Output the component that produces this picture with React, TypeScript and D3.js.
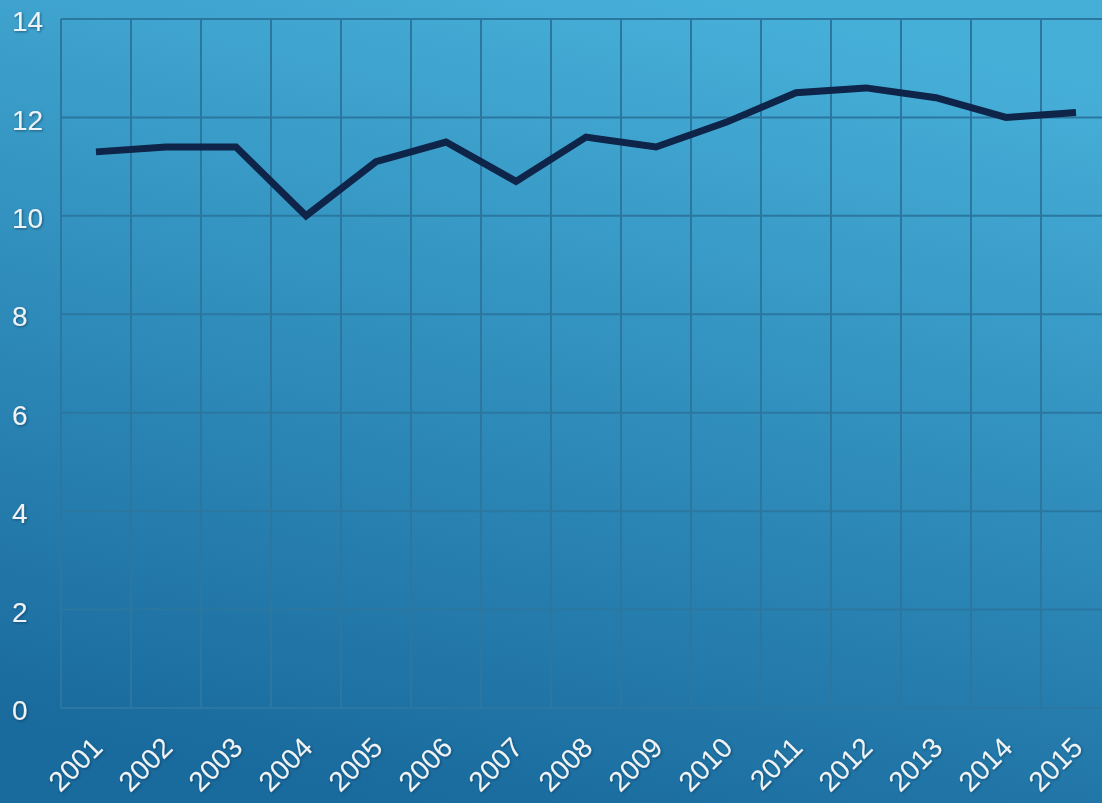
import React from "react";
import * as d3 from "d3";

const years = ["2001","2002","2003","2004","2005","2006","2007","2008","2009","2010","2011","2012","2013","2014","2015"];
const values = [11.3, 11.4, 11.4, 10.0, 11.1, 11.5, 10.7, 11.6, 11.4, 11.9, 12.5, 12.6, 12.4, 12.0, 12.1];
const yTicks = [0, 2, 4, 6, 8, 10, 12, 14];

export default function App() {
  const W = 1102, H = 803;
  const left = 61, top = 19, bottom = 708;
  const bandW = 70;
  const x = d3.scaleBand<string>().domain(years).range([left, left + bandW * years.length]).padding(0);
  const y = d3.scaleLinear().domain([0, 14]).range([bottom, top]);
  const line = d3.line<number>().x((_, i) => (x(years[i]) as number) + x.bandwidth() / 2).y((d) => y(d));
  const gridColor = "#2b77a0";
  const right = left + bandW * years.length;
  return (
    <svg width={W} height={H} style={{ position: "absolute", left: 0, top: 0 }}
      fontFamily="'Liberation Sans', Arial, sans-serif">
      <defs>
        <linearGradient id="bg" x1="0.35" y1="1" x2="0.65" y2="0">
          <stop offset="0" stopColor="#196a9d" />
          <stop offset="1" stopColor="#46afd8" />
        </linearGradient>
        <filter id="ts" x="-20%" y="-20%" width="140%" height="140%">
          <feDropShadow dx="1" dy="1" stdDeviation="0.8" floodColor="#0b3550" floodOpacity="0.6" />
        </filter>
      </defs>
      <rect x={0} y={0} width={W} height={H} fill="url(#bg)" />
      {yTicks.map((t) => (
        <line key={"h" + t} x1={left} x2={right} y1={y(t)} y2={y(t)} stroke={gridColor} strokeWidth={2} />
      ))}
      {d3.range(years.length + 1).map((i) => (
        <line key={"v" + i} x1={left + i * bandW} x2={left + i * bandW} y1={top} y2={bottom} stroke={gridColor} strokeWidth={2} />
      ))}
      <g filter="url(#ts)">
        {yTicks.map((t) => (
          <text key={"yl" + t} x={12} y={y(t) + 2} dy="0.36em" textAnchor="start" fill="#eef3f6" fontSize={28}>{t}</text>
        ))}
        {years.map((yr) => {
          const cx = (x(yr) as number) + x.bandwidth() / 2 - 6;
          const cy = 735;
          return (
            <text key={yr} transform={`translate(${cx},${cy}) rotate(-45)`} textAnchor="end" fill="#eef3f6" fontSize={28} dy="0.72em">{yr}</text>
          );
        })}
      </g>
      <path d={line(values) || ""} fill="none" stroke="#0e2448" strokeWidth={7} strokeLinejoin="miter" />
    </svg>
  );
}
